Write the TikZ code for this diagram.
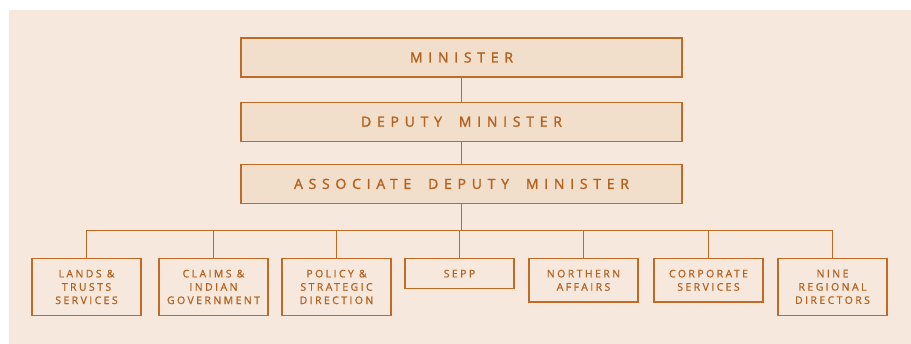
\documentclass[tikz,border=0pt]{standalone}
\usepackage{fontspec}
\usepackage{xcolor}
\usetikzlibrary{positioning,calc}

\newfontfamily\headfont[LetterSpace=41, WordSpace=1.8, FakeBold=1.6]{Open Sans}
\newfontfamily\unitfont[LetterSpace=23, FakeBold=0.9]{Open Sans}

\definecolor{pagebg}{HTML}{F6E8DD}
\definecolor{boxfill}{HTML}{F2DFCB}
\definecolor{rulecol}{HTML}{BF6B26}
\definecolor{textcol}{HTML}{B5621E}

\tikzset{
    headbox/.style = {draw=rulecol, fill=boxfill, line width=1.2pt,
                      minimum width=441pt, minimum height=39pt,
                      text=textcol, font=\headfont\fontsize{14}{16}\selectfont},
    unitbox/.style = {draw=rulecol, fill=pagebg, line width=1.2pt,
                      anchor=north, minimum width=109pt,
                      inner xsep=2pt, inner ysep=11.2pt, align=center,
                      text=textcol, font=\unitfont\fontsize{10.5}{13.3}\selectfont},
    link/.style    = {draw=rulecol, line width=1.2pt},
}

\begin{document}
\begin{tikzpicture}[x=1pt, y=-1pt]
    % page -------------------------------------------------------------
    \useasboundingbox (0,0) rectangle (911,344);
    \fill[pagebg] (9,10) rectangle (911,344);

    % top of the chart -------------------------------------------------
    \node[headbox] (min) at (461.5,57.5) {MINISTER};
    \node[headbox, below=24pt of min] (dep) {DEPUTY MINISTER};
    \node[headbox, below=22pt of dep] (adm) {ASSOCIATE DEPUTY MINISTER};
    \draw[link] (min) -- (dep);
    \draw[link] (dep) -- (adm);

    % sectors ----------------------------------------------------------
    \node[unitbox] (lands)  at (86.5,258)  {LANDS \&\\TRUSTS\\SERVICES};
    \node[unitbox] (claims) at (213.5,258) {CLAIMS \&\\INDIAN\\GOVERNMENT};
    \node[unitbox] (policy) at (336.5,258) {POLICY \&\\STRATEGIC\\DIRECTION};
    \node[unitbox] (sepp)   at (459.5,258) {SEPP};
    \node[unitbox] (north)  at (583.5,258) {NORTHERN\\AFFAIRS};
    \node[unitbox] (corp)   at (708.5,258) {CORPORATE\\SERVICES};
    \node[unitbox] (nine)   at (832.5,258) {NINE\\REGIONAL\\DIRECTORS};

    \coordinate (bus) at (adm.south |- 0,230.5);
    \draw[link] (adm) -- (bus);
    \draw[link] (lands.north |- bus) -- (nine.north |- bus);
    \foreach \u in {lands,claims,policy,sepp,north,corp,nine}
        \draw[link] (\u.north |- bus) -- (\u);
\end{tikzpicture}
\end{document}
